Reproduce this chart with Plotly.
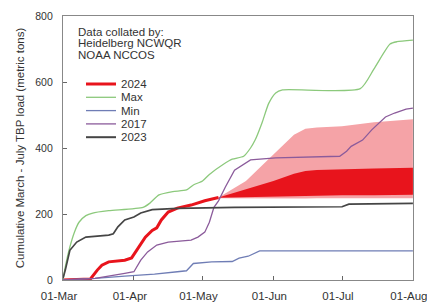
import plotly.graph_objects as go

YEAR = "2024"

def d(lst):
    return [f"{YEAR}-{s}" for s in lst]

# 2024 observed
obs_dates = ["03-01","03-13","03-16","03-18","03-21","03-28","03-31","04-03","04-06","04-09","04-11","04-13","04-16","04-20","04-26","05-02","05-08"]
obs_vals  = [0, 3, 30, 45, 55, 60, 67, 97, 130, 150, 158, 182, 206, 218, 227, 240, 250]

# 2024 forecast bands
fc_dates   = ["05-08","05-20","06-01","06-10","06-15","06-20","07-01","07-15","08-01"]
fc_lo_out  = [248, 247, 247, 247, 247, 248, 248, 248, 248]
fc_hi_out  = [250, 300, 380, 440, 458, 462, 466, 478, 487]
fc_lo_in   = [249, 251, 253, 254, 255, 256, 257, 257, 258]
fc_hi_in   = [250, 275, 300, 322, 330, 333, 336, 338, 340]

max_dates = ["03-01","03-02","03-04","03-06","03-08","03-11","03-14","03-21","04-05","04-08","04-12","04-18","04-24","04-27","05-01","05-04","05-10","05-14","05-19","05-22","05-24","05-27","05-30","06-02","06-05","07-09","07-15","07-22","07-25","08-01"]
max_vals  = [0, 40, 100, 145, 175, 195, 203, 210, 220, 233, 258, 268, 273, 288, 300, 320, 350, 366, 375, 400, 424, 476, 536, 567, 576, 580, 640, 715, 722, 727]

min_dates = ["03-01","03-15","03-28","04-10","04-20","04-24","04-27","05-05","05-14","05-17","05-21","05-26","08-01"]
min_vals  = [0, 5, 12, 18, 25, 28, 50, 55, 56, 66, 72, 88, 88]

y2017_dates = ["03-01","03-15","03-28","04-01","04-04","04-07","04-11","04-16","04-26","04-29","05-02","05-04","05-06","05-08","05-11","05-15","05-22","06-02","06-30","07-03","07-05","07-10","07-14","07-20","07-24","07-29","08-01"]
y2017_vals  = [0, 5, 20, 25, 60, 85, 106, 115, 121, 130, 145, 175, 220, 240, 282, 333, 364, 370, 375, 390, 405, 424, 455, 494, 506, 518, 521]

y2023_dates = ["03-01","03-02","03-04","03-07","03-11","03-21","03-23","03-25","03-28","04-01","04-04","04-09","04-20","05-15","07-01","07-04","08-01"]
y2023_vals  = [5, 30, 90, 115, 130, 136, 140, 161, 182, 191, 203, 213, 217, 220, 222, 230, 232]

x_tick_dates = ["03-01","04-01","05-01","06-01","07-01","08-01"]

legend_names  = ["2024", "Max", "Min", "2017", "2023"]
legend_colors = ["#e8141c", "#8cc97c", "#6f7db5", "#8b5b9b", "#454545"]
legend_widths = [3, 1.3, 1.3, 1.3, 2]

collated_lines = ["Data collated by:", "Heidelberg NCWQR", "NOAA NCCOS"]

FONT = "Liberation Sans, Arial, sans-serif"

fig = go.Figure()

# forecast bands
fig.add_trace(go.Scatter(x=d(fc_dates), y=fc_lo_out, mode="lines", line=dict(width=0), showlegend=False, hoverinfo="skip"))
fig.add_trace(go.Scatter(x=d(fc_dates), y=fc_hi_out, mode="lines", line=dict(width=0), fill="tonexty", fillcolor="#f5a3a7", showlegend=False, hoverinfo="skip"))
fig.add_trace(go.Scatter(x=d(fc_dates), y=fc_lo_in, mode="lines", line=dict(width=0), showlegend=False, hoverinfo="skip"))
fig.add_trace(go.Scatter(x=d(fc_dates), y=fc_hi_in, mode="lines", line=dict(width=0), fill="tonexty", fillcolor="#e8141c", showlegend=False, hoverinfo="skip"))

series = [(obs_dates, obs_vals, None), (max_dates, max_vals, "spline"), (min_dates, min_vals, None),
          (y2017_dates, y2017_vals, None), (y2023_dates, y2023_vals, None)]
for (xs, ys, shp), name, col, w in zip(series, legend_names, legend_colors, legend_widths):
    line = dict(color=col, width=w if name != "2023" else 1.7)
    if shp:
        line.update(shape="spline", smoothing=0.6)
    fig.add_trace(go.Scatter(x=d(xs), y=ys, mode="lines", name=name, line=line, showlegend=False))

axis_common = dict(showline=True, linecolor="#888888", linewidth=1.2, mirror=True, ticks="inside",
                   ticklen=4, tickcolor="#666666", showgrid=False, zeroline=False, automargin=False)

fig.update_xaxes(range=[f"{YEAR}-03-01", f"{YEAR}-08-01 01:00"], tickformat="%d-%b",
                 tickvals=d(x_tick_dates), ticklabelstandoff=5, ticklabelshift=-4,
                 ticklabeloverflow="allow",
                 tickfont=dict(family=FONT, size=11.5, color="#333333"), **axis_common)
fig.update_yaxes(range=[0, 800], dtick=200, ticklabelstandoff=7,
                 tickfont=dict(family=FONT, size=10.5, color="#333333"),
                 title=dict(text="Cumulative March - July TBP load (metric tons)",
                            font=dict(family=FONT, size=11.5, color="#333333"),
                            standoff=8),
                 **axis_common)

# header text
PW, PH = 350.0, 264.0
for i, t in enumerate(collated_lines):
    fig.add_annotation(xref="paper", yref="paper", x=(76 - 63) / PW, y=(280 - (32 + 11.5 * i)) / PH,
                       xanchor="left", yanchor="middle", text=t, showarrow=False,
                       font=dict(family=FONT, size=11.5, color="#333333"))

# manual legend
for i, (name, col, w) in enumerate(zip(legend_names, legend_colors, legend_widths)):
    yp = (280 - (84 + 13.3 * i)) / PH
    fig.add_shape(type="line", xref="paper", yref="paper", x0=(86 - 63) / PW, x1=(116 - 63) / PW,
                  y0=yp, y1=yp, line=dict(color=col, width=w))
    fig.add_annotation(xref="paper", yref="paper", x=(119 - 63) / PW, y=yp, xanchor="left", yanchor="middle",
                       text=name, showarrow=False, font=dict(family=FONT, size=11.5, color="#333333"))

fig.update_layout(
    width=427, height=307,
    margin=dict(l=63, r=14, t=16, b=27, autoexpand=False),
    paper_bgcolor="white", plot_bgcolor="white",
    showlegend=False,
)

fig.write_html("out.html", config={"displayModeBar": False},
               post_script="document.body.style.margin='0';document.body.style.overflow='hidden';")
